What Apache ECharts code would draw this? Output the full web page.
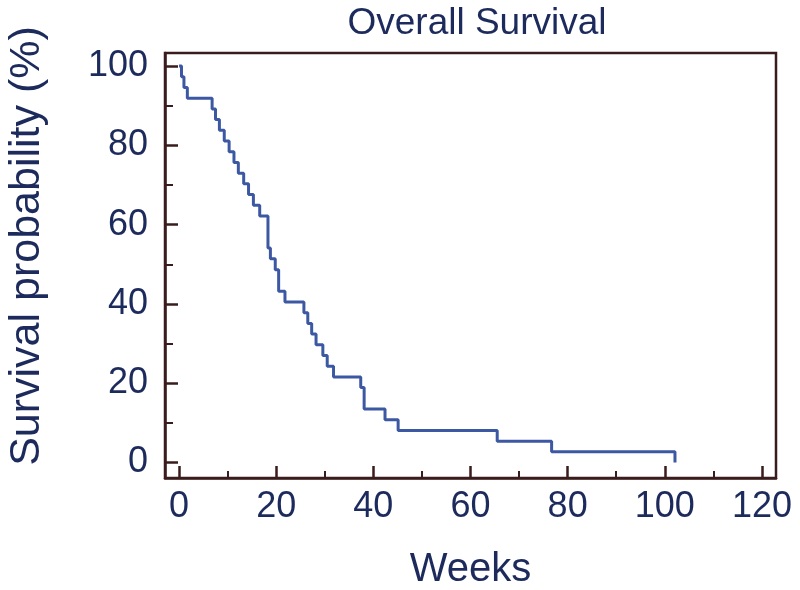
<!DOCTYPE html>
<html>
<head>
<meta charset="utf-8">
<script src="https://cdn.jsdelivr.net/npm/echarts@6/dist/echarts.min.js"></script>
<style>html,body{margin:0;padding:0;background:#fff}#c{width:800px;height:590px}</style>
</head>
<body>
<div id="c"></div>
<script>
// Kaplan-Meier step data: time of each drop (weeks) and the survival level after it (%)
const weeks = [0, 0.5, 1.0, 1.7, 6.8, 7.5, 8.3, 9.3, 10.3, 11.3, 12.2, 13.3, 14.3, 15.3, 16.6, 18.3, 18.8, 19.8, 20.5, 21.8, 25.7, 26.5, 27.3, 28.2, 29.6, 30.5, 31.8, 37.4, 38.1, 42.4, 45.1, 65.5, 76.7, 102.1];
const survival = [100, 97.3, 94.6, 91.9, 89.2, 86.5, 83.8, 81.1, 78.4, 75.7, 73.0, 70.3, 67.6, 64.9, 62.2, 54.1, 51.4, 48.6, 43.2, 40.5, 37.8, 35.1, 32.4, 29.7, 27.0, 24.3, 21.6, 18.9, 13.5, 10.8, 8.1, 5.4, 2.7, 0];
const xMajorTicks = [0, 20, 40, 60, 80, 100, 120];
const xMinorTicks = [10, 30, 50, 70, 90, 110];
const yMajorTicks = [0, 20, 40, 60, 80, 100];
const yMinorTicks = [10, 30, 50, 70, 90];
const titleText = 'Overall Survival';
const xName = 'Weeks';
const yName = 'Survival probability (%)';

const frameColor = '#3b1c1c';
const textColor = '#1c2a5c';
const lineColor = '#3d58a3';
const font = '"Liberation Sans", Arial, sans-serif';

const chart = echarts.init(document.getElementById('c'));
const xMin = -2.9, xMax = 122.9, yMin = -3.9, yMax = 103.3;
function xAxisBase(extra) {
  return Object.assign({
    type: 'value', min: xMin, max: xMax, position: 'bottom', offset: 0,
    splitLine: { show: false },
    axisLine: { show: true, onZero: false, lineStyle: { color: frameColor, width: 2.5 } }
  }, extra);
}
function yAxisBase(extra) {
  return Object.assign({
    type: 'value', min: yMin, max: yMax, position: 'left', offset: 0,
    splitLine: { show: false },
    axisLine: { show: true, onZero: false, lineStyle: { color: frameColor, width: 2.5 } }
  }, extra);
}
chart.setOption({
  animation: false,
  backgroundColor: '#ffffff',
  title: {
    text: titleText, left: 472, top: 0, textAlign: 'center',
    textStyle: { color: textColor, fontFamily: font, fontWeight: 'normal', fontSize: 37 }
  },
  grid: {
    left: 165, right: 24, top: 53, bottom: 112, containLabel: false, outerBoundsMode: 'none',
    show: true, borderColor: frameColor, borderWidth: 2.5, backgroundColor: 'transparent'
  },
  graphic: [{
    type: 'text', x: 27, y: 246, rotation: Math.PI / 2,
    style: { text: yName, fill: textColor, font: '43px "Liberation Sans", Arial, sans-serif', align: 'center', verticalAlign: 'middle' }
  }],
  xAxis: [
    xAxisBase({
      name: xName, nameLocation: 'middle', nameGap: 72,
      nameTextStyle: { color: textColor, fontFamily: font, fontSize: 40 },
      axisTick: { show: true, inside: true, length: 12, customValues: xMajorTicks, lineStyle: { color: frameColor, width: 2.5 } },
      axisLabel: { show: true, customValues: xMajorTicks, margin: 11, color: textColor, fontFamily: font, fontSize: 36 }
    }),
    xAxisBase({
      axisLine: { show: false, onZero: false },
      axisTick: { show: true, inside: true, length: 7, customValues: xMinorTicks, lineStyle: { color: frameColor, width: 2 } },
      axisLabel: { show: false }
    })
  ],
  yAxis: [
    yAxisBase({
      axisTick: { show: true, inside: true, length: 13, customValues: yMajorTicks, lineStyle: { color: frameColor, width: 2.5 } },
      axisLabel: { show: true, customValues: yMajorTicks, margin: 17, color: textColor, fontFamily: font, fontSize: 36 }
    }),
    yAxisBase({
      axisLine: { show: false, onZero: false },
      axisTick: { show: true, inside: true, length: 8, customValues: yMinorTicks, lineStyle: { color: frameColor, width: 2 } },
      axisLabel: { show: false }
    })
  ],
  series: [{
    type: 'line', step: 'end', symbol: 'none',
    xAxisIndex: 0, yAxisIndex: 0,
    lineStyle: { color: lineColor, width: 3 },
    data: weeks.map((w, i) => [w, survival[i]])
  }]
});
</script>
</body>
</html>
